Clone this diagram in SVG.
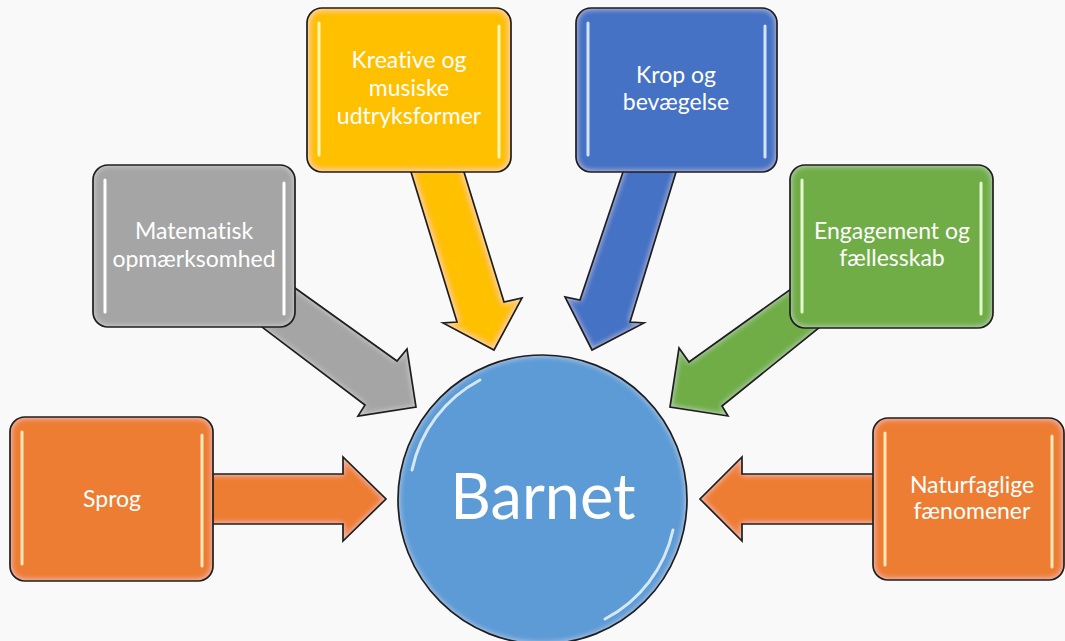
<svg xmlns="http://www.w3.org/2000/svg" xmlns:xlink="http://www.w3.org/1999/xlink" width="1065" height="641" viewBox="0 0 1065 641">
<style>
.bg{fill:#f9f9f9}
.outline{fill:none;stroke:#1e1e1e;stroke-width:1.7;stroke-linejoin:miter}
.orange{fill:#ED7D31}
.gray{fill:#A5A5A5}
.yellow{fill:#FFC000}
.blue{fill:#4472C4}
.green{fill:#70AD47}
.circ{fill:#5B9BD5}
.hl{fill:none;stroke-width:3;stroke-linecap:round}
.hl-orange{stroke:#FFE8B8}
.hl-gray{stroke:#FFFFFF}
.hl-yellow{stroke:#FFF6B8}
.hl-blue{stroke:#D3E4F8}
.hl-green{stroke:#E3F8CE}
.lbl{font-family:Lato,"Open Sans","Liberation Sans",sans-serif;font-size:23px;fill:#ffffff;text-anchor:middle;font-variant-ligatures:none}
.big{font-family:Lato,"Open Sans","Liberation Sans",sans-serif;font-size:63px;fill:#ffffff;text-anchor:middle}
</style>
<defs>
<filter id="bevel" x="-10%" y="-10%" width="120%" height="120%">
<feGaussianBlur in="SourceAlpha" stdDeviation="3" result="b"/>
<feComposite in="SourceAlpha" in2="b" operator="arithmetic" k2="1" k3="-1" result="edge"/>
<feFlood flood-color="#ffffff" flood-opacity="0.55"/>
<feComposite in2="edge" operator="in" result="glow"/>
<feMerge><feMergeNode in="SourceGraphic"/><feMergeNode in="glow"/></feMerge>
</filter>
<filter id="soft" x="-50%" y="-10%" width="200%" height="120%">
<feGaussianBlur stdDeviation="0.4"/>
</filter>
<rect id="r-sprog" x="10" y="417" width="203" height="164" rx="15"/>
<rect id="r-mat" x="93" y="165" width="202" height="162" rx="15"/>
<rect id="r-kre" x="307" y="8" width="204" height="164" rx="15"/>
<rect id="r-krop" x="576" y="8" width="201" height="164" rx="15"/>
<rect id="r-eng" x="790" y="165" width="203" height="163" rx="15"/>
<rect id="r-nat" x="873" y="418" width="191" height="162" rx="15"/>
<circle id="c-bar" cx="542.5" cy="499.5" r="144.5"/>
<polygon id="a-sprog" points="150,474 343,474 343,457 386,499 343,541 343,524 150,524"/>
<polygon id="a-mat" points="244,251.5 397,361 407,349 416,407 358,416 365,405 215,291.5"/>
<polygon id="a-kre" points="388,97 457,322 443,323 494,350 522,298 504,302 444,107"/>
<polygon id="a-krop" points="644.5,108 580,300 565,297 592,350 644,323 630,322 699,97"/>
<polygon id="a-eng" points="840,254 689,362 679,348 670,407 728,416 722,406 867,289"/>
<polygon id="a-nat" points="950,474 742,474 742,457 700,499 742,541 742,524 950,524"/>
</defs>
<rect class="bg" x="0" y="0" width="1065" height="641"/>

<g id="connectors">
<use xlink:href="#a-sprog" class="orange" filter="url(#bevel)"/><use xlink:href="#a-sprog" class="outline"/>
<use xlink:href="#a-mat" class="gray" filter="url(#bevel)"/><use xlink:href="#a-mat" class="outline"/>
<use xlink:href="#a-kre" class="yellow" filter="url(#bevel)"/><use xlink:href="#a-kre" class="outline"/>
<use xlink:href="#a-krop" class="blue" filter="url(#bevel)"/><use xlink:href="#a-krop" class="outline"/>
<use xlink:href="#a-eng" class="green" filter="url(#bevel)"/><use xlink:href="#a-eng" class="outline"/>
<use xlink:href="#a-nat" class="orange" filter="url(#bevel)"/><use xlink:href="#a-nat" class="outline"/>
</g>

<g id="node-barnet">
<use xlink:href="#c-bar" class="circ" filter="url(#bevel)"/>
<path d="M 412 470 A 132 132 0 0 1 480 380" fill="none" stroke="#D6E8F8" stroke-width="3" stroke-linecap="round" filter="url(#soft)"/>
<path d="M 673 530 A 132 132 0 0 1 605 619" fill="none" stroke="#D6E8F8" stroke-width="3" stroke-linecap="round" filter="url(#soft)"/>
<use xlink:href="#c-bar" class="outline"/>
<text class="big" x="543" y="519">Barnet</text>
</g>

<g id="node-sprog">
<use xlink:href="#r-sprog" class="orange" filter="url(#bevel)"/>
<path class="hl hl-orange" d="M22 432V564M202 435V566" filter="url(#soft)"/>
<use xlink:href="#r-sprog" class="outline"/>
<text class="lbl" x="112" y="507">Sprog</text>
</g>

<g id="node-matematisk">
<use xlink:href="#r-mat" class="gray" filter="url(#bevel)"/>
<path class="hl hl-gray" d="M105 180V312M284 183V314" filter="url(#soft)"/>
<use xlink:href="#r-mat" class="outline"/>
<text class="lbl" x="194" y="239">Matematisk</text>
<text class="lbl" x="194" y="267">opmærksomhed</text>
</g>

<g id="node-kreative">
<use xlink:href="#r-kre" class="yellow" filter="url(#bevel)"/>
<path class="hl hl-yellow" d="M319 23V155M499 26V157" filter="url(#soft)"/>
<use xlink:href="#r-kre" class="outline"/>
<text class="lbl" x="409" y="68">Kreative og</text>
<text class="lbl" x="409" y="96">musiske</text>
<text class="lbl" x="409" y="124">udtryksformer</text>
</g>

<g id="node-krop">
<use xlink:href="#r-krop" class="blue" filter="url(#bevel)"/>
<path class="hl hl-blue" d="M588 23V155M765 26V157" filter="url(#soft)"/>
<use xlink:href="#r-krop" class="outline"/>
<text class="lbl" x="676" y="83">Krop og</text>
<text class="lbl" x="676" y="110">bevægelse</text>
</g>

<g id="node-engagement">
<use xlink:href="#r-eng" class="green" filter="url(#bevel)"/>
<path class="hl hl-green" d="M802 180V312M981 183V314" filter="url(#soft)"/>
<use xlink:href="#r-eng" class="outline"/>
<text class="lbl" x="892" y="239">Engagement og</text>
<text class="lbl" x="892" y="266">fællesskab</text>
</g>

<g id="node-naturfaglige">
<use xlink:href="#r-nat" class="orange" filter="url(#bevel)"/>
<path class="hl hl-orange" d="M885 433V565M1052 436V567" filter="url(#soft)"/>
<use xlink:href="#r-nat" class="outline"/>
<text class="lbl" x="972" y="493">Naturfaglige</text>
<text class="lbl" x="972" y="519">fænomener</text>
</g>
</svg>
